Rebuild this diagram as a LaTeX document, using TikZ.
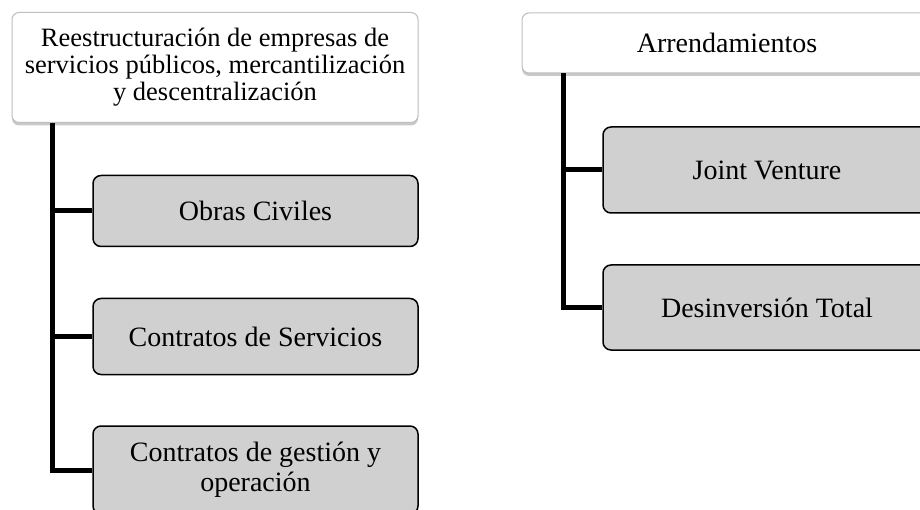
\documentclass[tikz,border=0pt]{standalone}
\usepackage{fontspec}
\setmainfont{Liberation Serif}
\usetikzlibrary{shadows}
\definecolor{boxgray}{RGB}{208,208,208}
\definecolor{edgegray}{RGB}{190,190,190}
\tikzset{
  headbox/.style={draw=edgegray, line width=1pt, fill=white, rounded corners=7pt,
    inner sep=0pt, align=center,
    drop shadow={shadow xshift=0pt, shadow yshift=-3pt, opacity=0.35, fill=black!60},
    font=\fontsize{26.5}{27}\selectfont},
  subbox/.style={draw=black, line width=1.5pt, fill=boxgray, rounded corners=8pt,
    inner sep=0pt, align=center, font=\fontsize{28}{30}\selectfont},
  conn/.style={line width=5pt, draw=black}
}
\begin{document}
\begin{tikzpicture}[x=1pt,y=-1pt]
\useasboundingbox (0,0) rectangle (920,510);
\clip (0,0) rectangle (920,510);
\fill[white] (0,0) rectangle (920,510);
% left column
\node[headbox, minimum width=406pt, minimum height=110pt] (tl) at (215,67.5)
  {Reestructuración de empresas de\\servicios públicos, mercantilización\\y descentralización};
\node[subbox, minimum width=325pt, minimum height=71pt] (obras) at (255.5,211) {Obras Civiles};
\node[subbox, minimum width=325pt, minimum height=76pt] (serv) at (255.5,336.5) {Contratos de Servicios};
\node[subbox, minimum width=325pt, minimum height=88pt] (gest) at (255.5,470) {Contratos de gestión y\\operación};
% right column
\node[headbox, minimum width=410pt, minimum height=60pt, font=\fontsize{28}{30}\selectfont] (arr) at (727,43) {Arrendamientos};
\node[subbox, minimum width=328pt, minimum height=86pt] (jv) at (767,170) {Joint Venture};
\node[subbox, minimum width=328pt, minimum height=85pt] (des) at (767,307.5) {Desinversión Total};
% spines
\coordinate (sl) at (52,0);
\coordinate (sr) at (563,0);
\draw[conn] (sl |- tl.south) |- (gest.west);
\draw[conn] (sl |- obras.west) -- (obras.west);
\draw[conn] (sl |- serv.west) -- (serv.west);
\draw[conn] (sr |- arr.south) |- (des.west);
\draw[conn] (sr |- jv.west) -- (jv.west);
\end{tikzpicture}
\end{document}
